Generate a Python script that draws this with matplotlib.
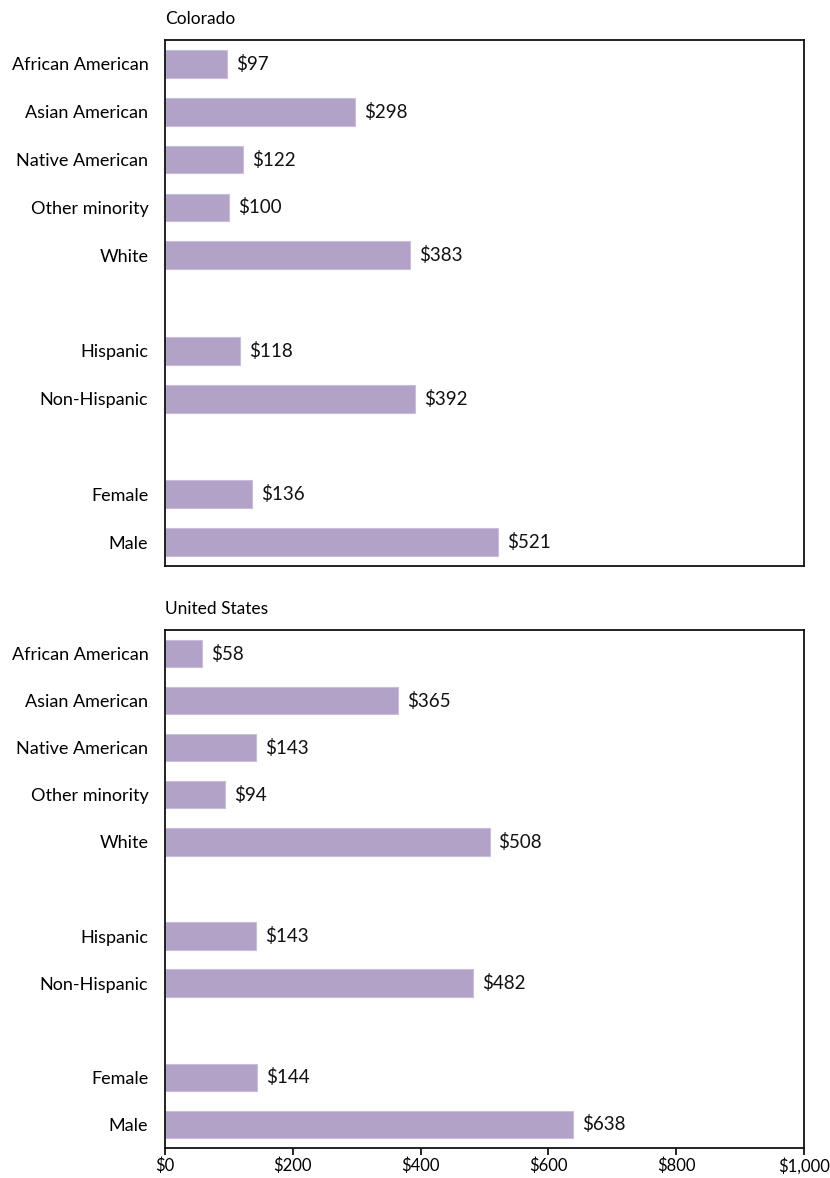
import matplotlib
matplotlib.use("Agg")
import matplotlib.pyplot as plt
from matplotlib.ticker import FuncFormatter

plt.rcParams['font.family'] = ['Lato', 'DejaVu Sans']

categories = ["African American", "Asian American", "Native American", "Other minority",
              "White", "Hispanic", "Non-Hispanic", "Female", "Male"]
# slot positions leave blank rows between the race, ethnicity and sex groups
slots = [0, 1, 2, 3, 4, 6, 7, 9, 10]

colorado = [97, 298, 122, 100, 383, 118, 392, 136, 521]
united_states = [58, 365, 143, 94, 508, 143, 482, 144, 638]
x_ticks = [0, 200, 400, 600, 800, 1000]

bar_color = "#B3A2C7"
fig = plt.figure(figsize=(8.3, 11.78), dpi=100)

panels = [
    ("Colorado", colorado, [0.1988, 0.5195, 0.7699, 0.4465], False),
    ("United States", united_states, [0.1988, 0.0255, 0.7699, 0.4397], True),
]

for title, values, rect, show_x in panels:
    ax = fig.add_axes(rect)
    ax.barh(slots, values, height=0.58, color=bar_color, edgecolor="#C9BDDA", linewidth=0.8)
    for y, v in zip(slots, values):
        ax.text(v + 14, y, f"${v:,}", va="center", ha="left", fontsize=13.5, color="#111111")
    ax.set_xlim(0, 1000)
    ax.set_ylim(10.5, -0.5)
    ax.set_yticks(slots)
    ax.set_yticklabels(categories, fontsize=13)
    ax.tick_params(axis="y", length=0, pad=12)
    if show_x:
        ax.set_xticks(x_ticks)
        ax.xaxis.set_major_formatter(FuncFormatter(lambda v, p: f"${v:,.0f}"))
        ax.tick_params(axis="x", length=5, width=1.2, direction="out", labelsize=12, pad=2)
    else:
        ax.set_xticks([])
    for s in ax.spines.values():
        s.set_linewidth(1.3)
        s.set_color("#111111")
    ax.text(0.0, 1.0 + 13 / (rect[3] * 1178), title, transform=ax.transAxes,
            fontsize=12.5, ha="left", va="bottom")

fig.savefig("out.png", dpi=100)
